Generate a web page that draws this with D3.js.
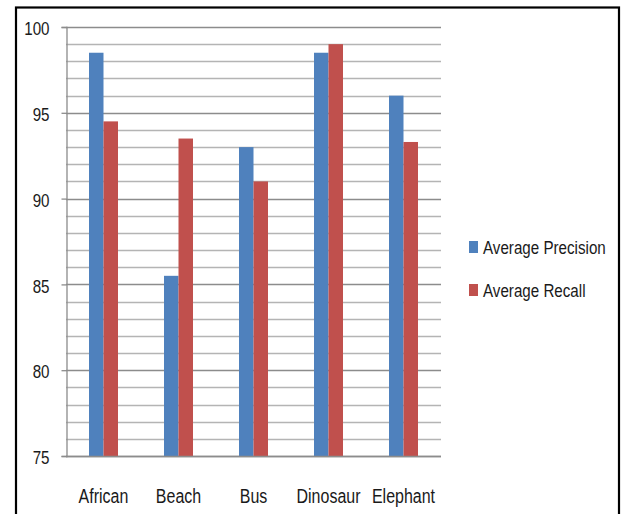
<!DOCTYPE html>
<html>
<head>
<meta charset="utf-8">
<script src="https://cdn.jsdelivr.net/npm/d3@7"></script>
<style>
  html, body { margin: 0; padding: 0; background: #fff; }
  svg { display: block; }
  text { font-family: "Liberation Sans", Arial, sans-serif; fill: #1a1a1a; }
</style>
</head>
<body>
<svg id="chart" width="621" height="514"></svg>
<script>
// Categories and the two series
const categories = ["African", "Beach", "Bus", "Dinosaur", "Elephant"];
const seriesNames = ["Average Precision", "Average Recall"];
const precision = [98.5, 85.5, 93, 98.5, 96];
const recall = [94.5, 93.5, 91, 99, 93.3];
const yTicks = [75, 80, 85, 90, 95, 100];
const colors = ["#4f81bd", "#c0504d"];

// Narrow lettering: regular sans squeezed horizontally
const squeeze = 0.82;

const svg = d3.select("#chart");
const plot = { left: 66, right: 441, top: 27, bottom: 456 };

// Outer frame
svg.append("rect")
  .attr("x", 16).attr("y", 7.5)
  .attr("width", 603).attr("height", 520)
  .attr("fill", "none").attr("stroke", "#000").attr("stroke-width", 2.2);

const y = d3.scaleLinear().domain([75, 100]).range([plot.bottom, plot.top]);

const x0 = d3.scaleBand()
  .domain(categories)
  .range([plot.left, plot.right])
  .paddingInner(46 / 75)
  .paddingOuter(23 / 75);

const x1 = d3.scaleBand()
  .domain(seriesNames)
  .range([0, x0.bandwidth()]);

// Gridlines: one per unit, darker at each labelled value
const gridVals = d3.range(75, 101, 1);
svg.append("g").selectAll("line")
  .data(gridVals)
  .join("line")
  .attr("x1", plot.left).attr("x2", plot.right)
  .attr("y1", d => Math.round(y(d)) + 0.5)
  .attr("y2", d => Math.round(y(d)) + 0.5)
  .attr("stroke", d => d % 5 === 0 ? "#8c8c8c" : "#b4b4b4")
  .attr("stroke-width", 1.3);

// Y axis
const tickLen = 5, tickPad = 12;
const yAxis = d3.axisLeft(y)
  .tickValues(yTicks)
  .tickSize(tickLen)
  .tickPadding(tickPad)
  .tickFormat(d3.format("d"));

const gy = svg.append("g")
  .attr("transform", `translate(${plot.left + 0.5},0)`)
  .call(yAxis);
gy.select(".domain").attr("stroke", "#8c8c8c").attr("stroke-width", 1.3);
gy.selectAll(".tick line").attr("stroke", "#8c8c8c").attr("stroke-width", 1.3);
gy.selectAll(".tick text")
  .attr("font-size", 18.5)
  .attr("font-family", "\"Liberation Sans\", Arial, sans-serif")
  .attr("x", -(tickLen + tickPad) / squeeze)
  .attr("dy", "0.42em")
  .attr("transform", `scale(${squeeze},1)`)
  .attr("fill", "#1a1a1a");

// Bars
const rows = categories.map((c, i) => ({ cat: c, vals: [precision[i], recall[i]] }));
const groups = svg.append("g").selectAll("g")
  .data(rows)
  .join("g")
  .attr("transform", d => `translate(${x0(d.cat)},0)`);

groups.selectAll("rect")
  .data(d => d.vals.map((v, k) => ({ name: seriesNames[k], v, k })))
  .join("rect")
  .attr("x", d => x1(d.name))
  .attr("width", x1.bandwidth())
  .attr("y", d => y(d.v))
  .attr("height", d => y(75) - y(d.v))
  .attr("fill", d => colors[d.k]);

// Baseline drawn over bars
svg.append("line")
  .attr("x1", plot.left).attr("x2", plot.right)
  .attr("y1", Math.round(y(75)) + 0.5).attr("y2", Math.round(y(75)) + 0.5)
  .attr("stroke", "#8c8c8c").attr("stroke-width", 1.4);

// X axis labels
const xAxis = d3.axisBottom(x0).tickSize(0).tickPadding(0);
const gx = svg.append("g")
  .attr("transform", `translate(0,${plot.bottom})`)
  .call(xAxis);
gx.select(".domain").remove();
gx.selectAll(".tick text")
  .attr("y", 47)
  .attr("dy", 0)
  .attr("font-size", 19.5)
  .attr("font-family", "\"Liberation Sans\", Arial, sans-serif")
  .attr("transform", `scale(${squeeze},1)`)
  .attr("fill", "#1a1a1a");

// Legend
const legend = svg.append("g").attr("transform", "translate(469,0)");
const legendRows = legend.selectAll("g")
  .data(seriesNames)
  .join("g")
  .attr("transform", (d, i) => `translate(0,${254 + i * 43})`);
legendRows.append("rect")
  .attr("x", 0).attr("y", -13)
  .attr("width", 9).attr("height", 12)
  .attr("fill", (d, i) => colors[i]);
legendRows.append("text")
  .attr("transform", `translate(14,0) scale(${squeeze},1)`)
  .attr("font-size", 18.5)
  .text(d => d);
</script>
</body>
</html>
